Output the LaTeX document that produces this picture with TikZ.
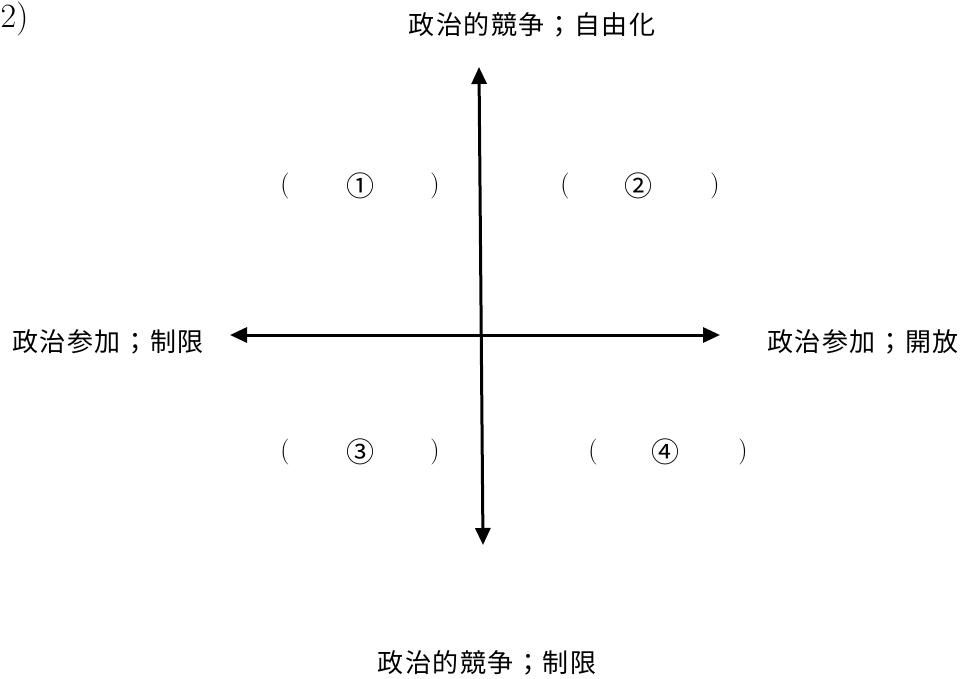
\documentclass[tikz,border=0pt]{standalone}
\usepackage{fontspec}
\newfontfamily\cjk[LetterSpace=6]{Noto Sans CJK JP}
\newfontfamily\cjknum{Noto Sans CJK JP}
\usetikzlibrary{arrows.meta}
\begin{document}
\begin{tikzpicture}[x=1pt,y=-1pt,
  axis/.style={line width=3pt,{Triangle[width=15pt,length=17pt]}-{Triangle[width=15pt,length=17pt]}},
  lab/.style={inner sep=0pt,font=\cjk\fontsize{26}{30}\selectfont},
  par/.style={inner sep=0pt,font=\fontsize{26}{30}\selectfont},
  num/.style={inner sep=0pt,font=\cjknum\fontsize{28}{32}\selectfont}]
\useasboundingbox (0,0) rectangle (966,679);
\node[inner sep=0pt,anchor=west,font=\fontsize{34}{38}\selectfont] (q) at (0.5,19) {2)};
\coordinate (vt) at (479,67);
\coordinate (vb) at (483,545);
\coordinate (hl) at (230,335);
\coordinate (hr) at (720,335);
\draw[axis] (vb) -- (vt);
\draw[axis] (hl) -- (hr);
\node[lab] (top) at (532,25) {政治的競争；自由化};
\node[lab] (bot) at (487,663) {政治的競争；制限};
\node[lab] (lft) at (108,342) {政治参加；制限};
\node[lab] (rgt) at (863,342) {政治参加；開放};
% quadrant 1
\node[par] (p1a) at (285,186) {(};
\node[num] (n1) at (360,186) {①};
\node[par] (p1b) at (435,186) {)};
% quadrant 2
\node[par] (p2a) at (565,186) {(};
\node[num] (n2) at (638,186) {②};
\node[par] (p2b) at (715,186) {)};
% quadrant 3
\node[par] (p3a) at (285,452) {(};
\node[num] (n3) at (360,452) {③};
\node[par] (p3b) at (435,452) {)};
% quadrant 4
\node[par] (p4a) at (593,452) {(};
\node[num] (n4) at (665,452) {④};
\node[par] (p4b) at (743,452) {)};
\end{tikzpicture}
\end{document}
